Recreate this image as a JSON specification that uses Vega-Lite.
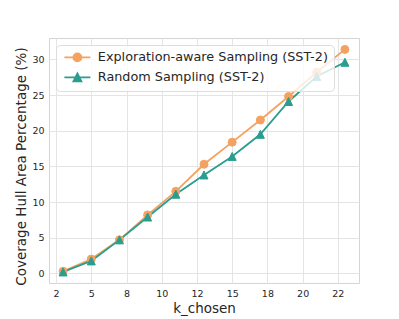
{
  "$schema": "https://vega.github.io/schema/vega-lite/v6.json",
  "autosize": {"type": "none"},
  "width": 310,
  "height": 245,
  "padding": {"left": 49, "top": 38, "right": 40, "bottom": 36},
  "background": "white",
  "config": {
    "font": "DejaVu Sans",
    "view": {"stroke": "#d4d4d4", "strokeWidth": 1},
    "axis": {
      "domain": false,
      "ticks": false,
      "grid": true,
      "gridColor": "#e4e4e4",
      "gridWidth": 1,
      "labelFont": "DejaVu Sans",
      "labelFontSize": 9.5,
      "labelColor": "#262626",
      "titleFont": "DejaVu Sans",
      "titleFontSize": 13.5,
      "titleFontWeight": "normal",
      "titleColor": "#262626"
    }
  },
  "data": {
    "values": [
      {"k": 3, "value": 0.3, "method": "Exploration-aware Sampling (SST-2)"},
      {"k": 5, "value": 2.0, "method": "Exploration-aware Sampling (SST-2)"},
      {"k": 7, "value": 4.7, "method": "Exploration-aware Sampling (SST-2)"},
      {"k": 9, "value": 8.2, "method": "Exploration-aware Sampling (SST-2)"},
      {"k": 11, "value": 11.5, "method": "Exploration-aware Sampling (SST-2)"},
      {"k": 13, "value": 15.3, "method": "Exploration-aware Sampling (SST-2)"},
      {"k": 15, "value": 18.4, "method": "Exploration-aware Sampling (SST-2)"},
      {"k": 17, "value": 21.5, "method": "Exploration-aware Sampling (SST-2)"},
      {"k": 19, "value": 24.8, "method": "Exploration-aware Sampling (SST-2)"},
      {"k": 21, "value": 28.2, "method": "Exploration-aware Sampling (SST-2)"},
      {"k": 23, "value": 31.4, "method": "Exploration-aware Sampling (SST-2)"},
      {"k": 3, "value": 0.2, "method": "Random Sampling (SST-2)"},
      {"k": 5, "value": 1.75, "method": "Random Sampling (SST-2)"},
      {"k": 7, "value": 4.7, "method": "Random Sampling (SST-2)"},
      {"k": 9, "value": 7.9, "method": "Random Sampling (SST-2)"},
      {"k": 11, "value": 11.1, "method": "Random Sampling (SST-2)"},
      {"k": 13, "value": 13.8, "method": "Random Sampling (SST-2)"},
      {"k": 15, "value": 16.4, "method": "Random Sampling (SST-2)"},
      {"k": 17, "value": 19.5, "method": "Random Sampling (SST-2)"},
      {"k": 19, "value": 24.1, "method": "Random Sampling (SST-2)"},
      {"k": 21, "value": 27.6, "method": "Random Sampling (SST-2)"},
      {"k": 23, "value": 29.6, "method": "Random Sampling (SST-2)"}
    ]
  },
  "encoding": {
    "x": {
      "field": "k",
      "type": "quantitative",
      "scale": {"domain": [2, 24], "nice": false, "zero": false},
      "axis": {
        "title": "k_chosen",
        "values": [2.5, 5, 7.5, 10, 12.5, 15, 17.5, 20, 22.5],
        "labelExpr": "datum.value == 2.5 ? '2' : datum.value == 7.5 ? '8' : datum.value == 12.5 ? '12' : datum.value == 17.5 ? '18' : datum.value == 22.5 ? '22' : format(datum.value, 'd')",
        "labelPadding": 5,
        "titlePadding": 4
      }
    },
    "y": {
      "field": "value",
      "type": "quantitative",
      "scale": {"domain": [-1.35, 33.0], "nice": false, "zero": false},
      "axis": {
        "title": "Coverage Hull Area Percentage (%)",
        "values": [0, 5, 10, 15, 20, 25, 30],
        "labelPadding": 5,
        "titlePadding": 3,
        "titleY": 128
      }
    },
    "color": {
      "field": "method",
      "type": "nominal",
      "scale": {"domain": ["Exploration-aware Sampling (SST-2)", "Random Sampling (SST-2)"], "range": ["#F4A261", "#2A9D8F"]},
      "legend": {
        "title": null,
        "orient": "top-left",
        "offset": 7,
        "padding": 6,
        "labelFont": "DejaVu Sans",
        "labelFontSize": 12.8,
        "labelColor": "#262626",
        "labelLimit": 400,
        "symbolSize": 64,
        "symbolOffset": 9,
        "labelOffset": 14,
        "rowPadding": 4,
        "strokeColor": "#dddddd",
        "fillColor": "rgba(255,255,255,0.8)",
        "cornerRadius": 4,
        "encode": {
          "symbols": {
            "update": {
              "shape": {"signal": "datum.value == 'Random Sampling (SST-2)' ? 'M-3.25,0H3.25M0,-1L1,1L-1,1Z' : 'M-3.25,0H3.25M1,0A1,1,0,1,1,-1,0A1,1,0,1,1,1,0Z'"},
              "fill": {"signal": "scale('color', datum.value)"},
              "stroke": {"signal": "scale('color', datum.value)"},
              "strokeWidth": {"value": 1.8},
              "opacity": {"value": 1}
            }
          }
        }
      }
    }
  },
  "layer": [
    {
      "mark": {"type": "line", "strokeWidth": 1.8}
    },
    {
      "transform": [{"filter": "datum.method == 'Exploration-aware Sampling (SST-2)'"}],
      "mark": {"type": "point", "shape": "circle", "filled": true, "size": 64, "opacity": 1, "stroke": "#F4A261", "strokeWidth": 1}
    },
    {
      "transform": [{"filter": "datum.method == 'Random Sampling (SST-2)'"}],
      "mark": {"type": "point", "shape": "M0,-1L1,1L-1,1Z", "filled": true, "size": 64, "opacity": 1, "stroke": "#2A9D8F", "strokeWidth": 1}
    }
  ]
}
